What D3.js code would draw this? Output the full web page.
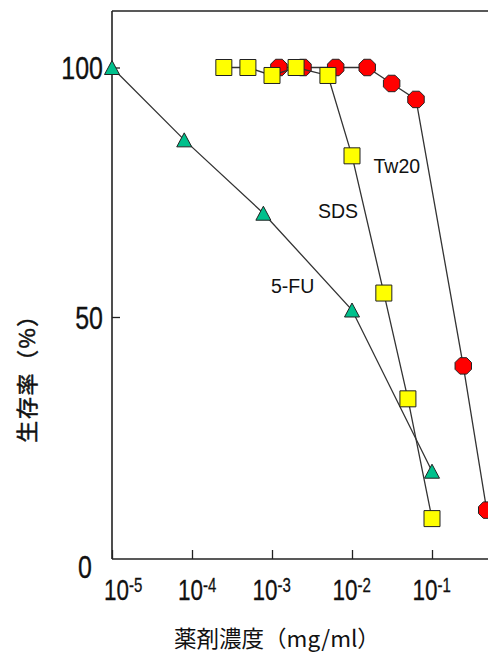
<!DOCTYPE html>
<html><head><meta charset="utf-8">
<script src="https://cdn.jsdelivr.net/npm/d3@7"></script>
<style>html,body{margin:0;padding:0;background:#fff;overflow:hidden}</style>
</head><body>
<svg id="c" width="488" height="652"></svg>
<script>
// ---- data ----
const seriesNames = ["5-FU", "SDS", "Tw20"];
const fuConc  = [1e-5, 8e-5, 7.8e-4, 1e-2, 1e-1];
const fuSurv  = [100, 85.5, 70.8, 51.4, 19.1];
const sdsConc = [2.5e-4, 5e-4, 1e-3, 2e-3, 5e-3, 1e-2, 2.5e-2, 5e-2, 1e-1];
const sdsSurv = [100, 100, 98.4, 100, 98.4, 82.3, 54.8, 33.6, 9.6];
const twConc  = [1.22e-3, 2.44e-3, 6.25e-3, 1.55e-2, 3.13e-2, 6.31e-2, 0.246, 0.483];
const twSurv  = [100, 100, 100, 100, 96.8, 93.6, 40.2, 11.3];
const xTickValues = [1e-5, 1e-4, 1e-3, 1e-2, 1e-1];
const xTickExponents = ["-5", "-4", "-3", "-2", "-1"];
const yTickValues = [0, 50, 100];
const xTitle = "薬剤濃度（mg/ml）";
const yTitle = "生存率（%）";

// ---- layout ----
const svg = d3.select("#c");
const x = d3.scaleLog().domain([1e-5, 1]).range([112, 512]);
const y = d3.scaleLinear().domain([0, 100]).range([566.5, 67.5]);
const axisY = 559, topY = 11, leftX = 112;
const numFont = "'Liberation Sans', Arial, sans-serif";
const cjkFont = "'Noto Sans CJK JP', 'Noto Sans CJK SC', sans-serif";
const axisColor = "#222";

// frame
svg.append("line").attr("x1", leftX).attr("x2", 520).attr("y1", topY).attr("y2", topY)
  .attr("stroke", axisColor).attr("stroke-width", 1.5);
svg.append("line").attr("x1", leftX).attr("x2", leftX).attr("y1", topY).attr("y2", axisY)
  .attr("stroke", axisColor).attr("stroke-width", 1.6);
svg.append("line").attr("x1", leftX).attr("x2", 520).attr("y1", axisY).attr("y2", axisY)
  .attr("stroke", axisColor).attr("stroke-width", 1.6);

// y axis
const gy = svg.append("g").attr("transform", `translate(${leftX},0)`)
  .call(d3.axisLeft(y).tickValues(yTickValues).tickSizeInner(-8).tickSizeOuter(0).tickPadding(9));
gy.select(".domain").remove();
gy.selectAll(".tick line").attr("stroke", axisColor).attr("stroke-width", 1.3)
  .filter(d => d === 0).remove();
gy.selectAll(".tick text")
  .attr("x", 0).attr("dy", "0.355em")
  .attr("font-family", numFont).attr("font-size", 32).attr("fill", "#111")
  .attr("stroke", "#111").attr("stroke-width", 0.35)
  .attr("transform", d => `translate(${d === 0 ? -20 : -9},0) scale(0.78,1)`);

// x axis
const labelShift = [11.5, 5.5, 0, 0, 0];
const gx = svg.append("g").attr("transform", `translate(0,${axisY})`)
  .call(d3.axisBottom(x).tickValues(xTickValues).tickSizeInner(-9).tickSizeOuter(0).tickFormat(() => ""));
gx.select(".domain").remove();
gx.selectAll(".tick line").attr("stroke", axisColor).attr("stroke-width", 1.3);
gx.selectAll(".tick text").remove();
gx.selectAll(".tick").each(function (d, i) {
  const t = d3.select(this).append("text")
    .attr("font-family", numFont).attr("fill", "#111").attr("text-anchor", "start")
    .attr("stroke", "#111").attr("stroke-width", 0.3)
    .attr("transform", `translate(${-20 + labelShift[i]},41) scale(0.75,1)`);
  t.append("tspan").attr("font-size", 30).text("10");
  t.append("tspan").attr("font-size", 20).attr("dy", -8.5).text(xTickExponents[i]);
});

// titles
svg.append("text").attr("x", 277).attr("y", 647).attr("text-anchor", "middle")
  .attr("font-family", cjkFont).attr("font-size", 22.5).attr("fill", "#111").text(xTitle);
svg.append("text").attr("transform", "translate(25,373) rotate(-90)")
  .attr("text-anchor", "middle").attr("dominant-baseline", "central")
  .attr("font-family", cjkFont).attr("font-size", 22).attr("letter-spacing", 1.5).attr("fill", "#111")
  .attr("stroke", "#111").attr("stroke-width", 0.5).text(yTitle);

// series
const line = d3.line().x(d => x(d.c)).y(d => y(d.v));
const mk = (cs, vs) => cs.map((c, i) => ({ c, v: vs[i] }));
const fuData = mk(fuConc, fuSurv), sdsData = mk(sdsConc, sdsSurv), twData = mk(twConc, twSurv);

const triPath = "M0,-7L7.5,7L-7.5,7Z";
const octPath = (() => {
  const r = 8.9, pts = [];
  for (let k = 0; k < 8; k++) {
    const a = (22.5 + 45 * k) * Math.PI / 180;
    pts.push([r * Math.cos(a), r * Math.sin(a)]);
  }
  return "M" + pts.map(p => p.join(",")).join("L") + "Z";
})();

function drawSeries(data, path, fill) {
  svg.append("path").datum(data).attr("d", line).attr("fill", "none")
    .attr("stroke", "#333").attr("stroke-width", 1.3);
  svg.append("g").selectAll("path").data(data).join("path")
    .attr("d", path).attr("transform", d => `translate(${x(d.c)},${y(d.v)})`)
    .attr("fill", fill).attr("stroke", "#222").attr("stroke-width", 1);
}
drawSeries(fuData, triPath, "#00c08c");
drawSeries(twData, octPath, "#ff0000");
drawSeries(sdsData, "M-8,-8H8V8H-8Z", "#ffff00");

// series labels
const labelPos = [[271, 293.3], [318, 218.3], [373.5, 173.3]];
seriesNames.forEach((n, i) => {
  svg.append("text").attr("x", labelPos[i][0]).attr("y", labelPos[i][1])
    .attr("font-family", numFont).attr("font-size", 19.5).attr("fill", "#111").text(n);
});
</script>
</body></html>
